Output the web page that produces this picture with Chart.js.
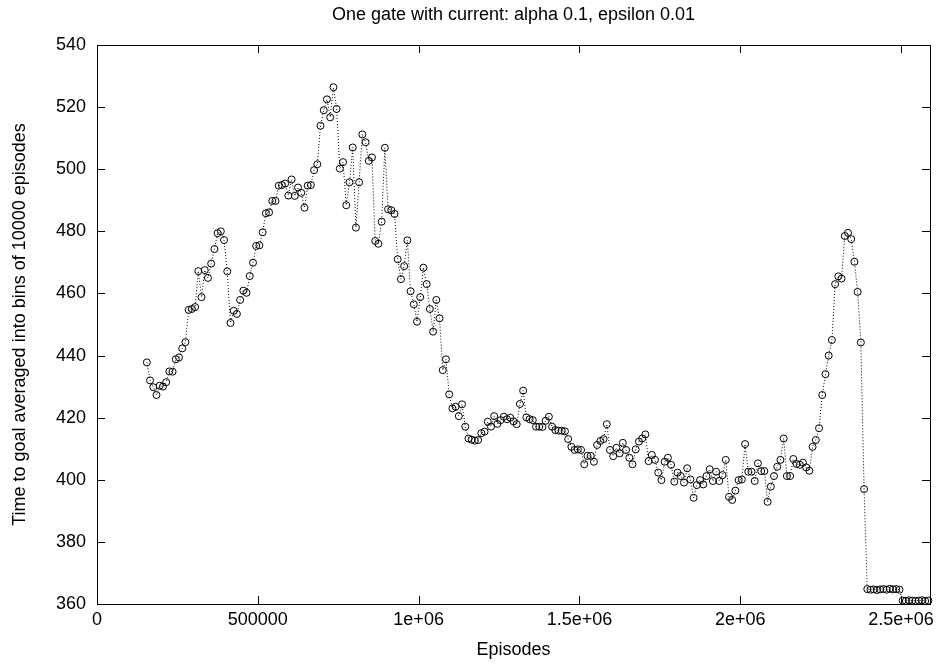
<!DOCTYPE html>
<html>
<head>
<meta charset="utf-8">
<script src="https://cdn.jsdelivr.net/npm/chart.js@4.4.0/dist/chart.umd.min.js"></script>
<style>
  html, body { margin: 0; padding: 0; background: #fff; }
  #wrap { width: 940px; height: 666px; }
</style>
</head>
<body>
<div id="wrap"><canvas id="chart" width="940" height="666"></canvas></div>
<script>
// Averaged time to goal per bin of 10000 episodes, first bin at 155000
const BIN_SIZE = 10000;
const FIRST_BIN = 155000;

const timeToGoal = [
  437.8, 432.0, 429.8, 427.3, 430.3, 430.0, 431.4, 434.9, 434.8, 438.8,
  439.4, 442.3, 444.3, 454.7, 455.0, 455.6, 467.2, 458.8, 467.5, 465.0,
  469.6, 474.3, 479.4, 480.0, 477.2, 467.1, 450.5, 454.4, 453.4, 457.9,
  460.9, 460.2, 465.6, 469.9, 475.3, 475.5, 479.7, 485.8, 486.1, 489.8,
  489.8, 494.7, 494.9, 495.4, 491.5, 496.7, 491.4, 494.1, 492.4, 487.6,
  494.7, 494.9, 499.7, 501.6, 514.0, 519.0, 522.5, 516.7, 526.4, 519.4,
  500.2, 502.3, 488.4, 495.8, 507.0, 481.2, 495.8, 511.2, 508.7, 502.7,
  503.8, 476.9, 476.0, 483.1, 506.9, 487.1, 486.8, 485.6, 471.0, 464.6,
  468.8, 477.1, 460.7, 456.5, 450.9, 458.8, 468.3, 463.0, 455.0, 447.7,
  457.9, 452.0, 435.3, 438.8, 427.5, 423.0, 423.5, 420.5, 424.3, 417.1,
  413.3, 412.9, 412.6, 412.8,
  415.0, 415.5, 418.7, 417.1, 420.5, 418.0, 419.2, 420.3, 419.5, 420.0,
  418.8, 417.9, 424.4, 428.7, 420.1, 419.5, 419.2, 417.1, 417.1, 417.0,
  419.0, 420.3, 417.1, 416.0, 415.8, 415.8, 415.6, 413.1, 410.6, 409.6,
  409.8, 409.6, 405.0, 407.7, 407.7, 405.8, 411.2, 412.5, 413.1, 417.9,
  409.6, 407.6, 410.3, 408.5, 411.9, 409.6, 407.1, 405.0, 409.8, 412.3,
  413.3, 414.6, 406.0, 408.0, 406.4, 402.3, 399.9, 405.8, 407.1, 404.8,
  399.4, 402.3, 401.2, 399.1, 403.7, 400.1, 394.2, 398.3, 399.9, 398.5,
  401.2, 403.4, 399.6, 402.6, 399.6, 401.5, 406.4, 394.5, 393.5, 396.5,
  399.9, 400.1, 411.5, 402.6, 402.6, 399.6, 405.3, 402.8, 402.8, 392.9,
  397.8, 401.2, 404.2, 406.4, 413.3, 401.2, 401.2, 406.7, 405.1, 404.8,
  405.5, 404.0, 402.9, 410.6, 412.8, 416.6, 427.3, 434.0, 440.0, 445.0,
  463.0, 465.5, 464.8, 478.5, 479.5, 477.5, 470.2, 460.5, 444.2, 397.0,
  364.8, 364.6, 364.7, 364.5, 364.7, 364.8, 364.6, 364.9, 364.7, 364.8, 364.6,
  361.1, 361.0, 361.2, 361.1, 361.0, 361.1, 361.2, 361.0, 361.1
];

const episodes = timeToGoal.map((_, i) => FIRST_BIN + i * BIN_SIZE);

const xTickValues = [0, 500000, 1000000, 1500000, 2000000, 2500000];
const xTickLabels = ["0", "500000", "1e+06", "1.5e+06", "2e+06", "2.5e+06"];
const yTickValues = [360, 380, 400, 420, 440, 460, 480, 500, 520, 540];

const X_MAX = 2590000;
const TICK_LEN = 8;

Chart.defaults.font.family = '"Liberation Sans", Arial, sans-serif';
Chart.defaults.font.size = 18;
Chart.defaults.color = "#000";

/**
 * Gnuplot style frame: full border with inward ticks on all four sides
 */
const framePlugin = {
  id: "frame",
  afterDatasetsDraw(chart) {
    const { ctx, chartArea: a, scales } = chart;
    ctx.save();
    ctx.strokeStyle = "#000";
    ctx.lineWidth = 1;
    ctx.setLineDash([]);
    ctx.strokeRect(a.left + 0.5, a.top + 0.5, a.right - a.left, a.bottom - a.top);
    ctx.beginPath();
    for (const v of xTickValues) {
      const px = Math.round(scales.x.getPixelForValue(v)) + 0.5;
      ctx.moveTo(px, a.bottom);
      ctx.lineTo(px, a.bottom - TICK_LEN);
      ctx.moveTo(px, a.top);
      ctx.lineTo(px, a.top + TICK_LEN);
    }
    for (const v of yTickValues) {
      const py = Math.round(scales.y.getPixelForValue(v)) + 0.5;
      ctx.moveTo(a.left, py);
      ctx.lineTo(a.left + TICK_LEN, py);
      ctx.moveTo(a.right, py);
      ctx.lineTo(a.right - TICK_LEN, py);
    }
    ctx.stroke();
    ctx.restore();
  },
};

const ctx = document.getElementById("chart").getContext("2d");
new Chart(ctx, {
  type: "line",
  data: {
    datasets: [
      {
        data: episodes.map((e, i) => ({ x: e, y: timeToGoal[i] })),
        borderColor: "#000",
        borderWidth: 1,
        borderDash: [1, 2],
        pointRadius: 3.5,
        pointBorderWidth: 1,
        pointBorderColor: "#000",
        pointBackgroundColor: "rgba(0,0,0,0)",
        pointStyle: "circle",
        tension: 0,
        clip: false,
      },
    ],
  },
  options: {
    responsive: false,
    animation: false,
    layout: { padding: { left: 0, right: 10, top: 0, bottom: 0 } },
    plugins: {
      legend: { display: false },
      tooltip: { enabled: false },
      title: {
        display: true,
        fullSize: false,
        text: "One gate with current: alpha 0.1, epsilon 0.01",
        font: { size: 18, weight: "normal" },
        color: "#000",
        padding: { top: 4, bottom: 19.4 },
      },
    },
    scales: {
      x: {
        type: "linear",
        min: 0,
        max: X_MAX,
        grid: { display: false, drawTicks: false },
        border: { display: false },
        afterBuildTicks: (scale) => {
          scale.ticks = xTickValues.map((v) => ({ value: v }));
        },
        afterFit: (scale) => { scale.height = 62; },
        ticks: {
          maxRotation: 0,
          autoSkip: false,
          padding: 5,
          callback: (value) => xTickLabels[xTickValues.indexOf(value)],
        },
        title: {
          display: true,
          text: "Episodes",
          padding: { top: 0, bottom: 5 },
        },
      },
      y: {
        min: 360,
        max: 540,
        grid: { display: false, drawTicks: false },
        border: { display: false },
        afterBuildTicks: (scale) => {
          scale.ticks = yTickValues.map((v) => ({ value: v }));
        },
        afterFit: (scale) => { scale.width = 97; },
        ticks: { padding: 11 },
        title: {
          display: true,
          text: "Time to goal averaged into bins of 10000 episodes",
          padding: { top: 9, bottom: 0 },
        },
      },
    },
  },
  plugins: [framePlugin],
});
</script>
</body>
</html>
